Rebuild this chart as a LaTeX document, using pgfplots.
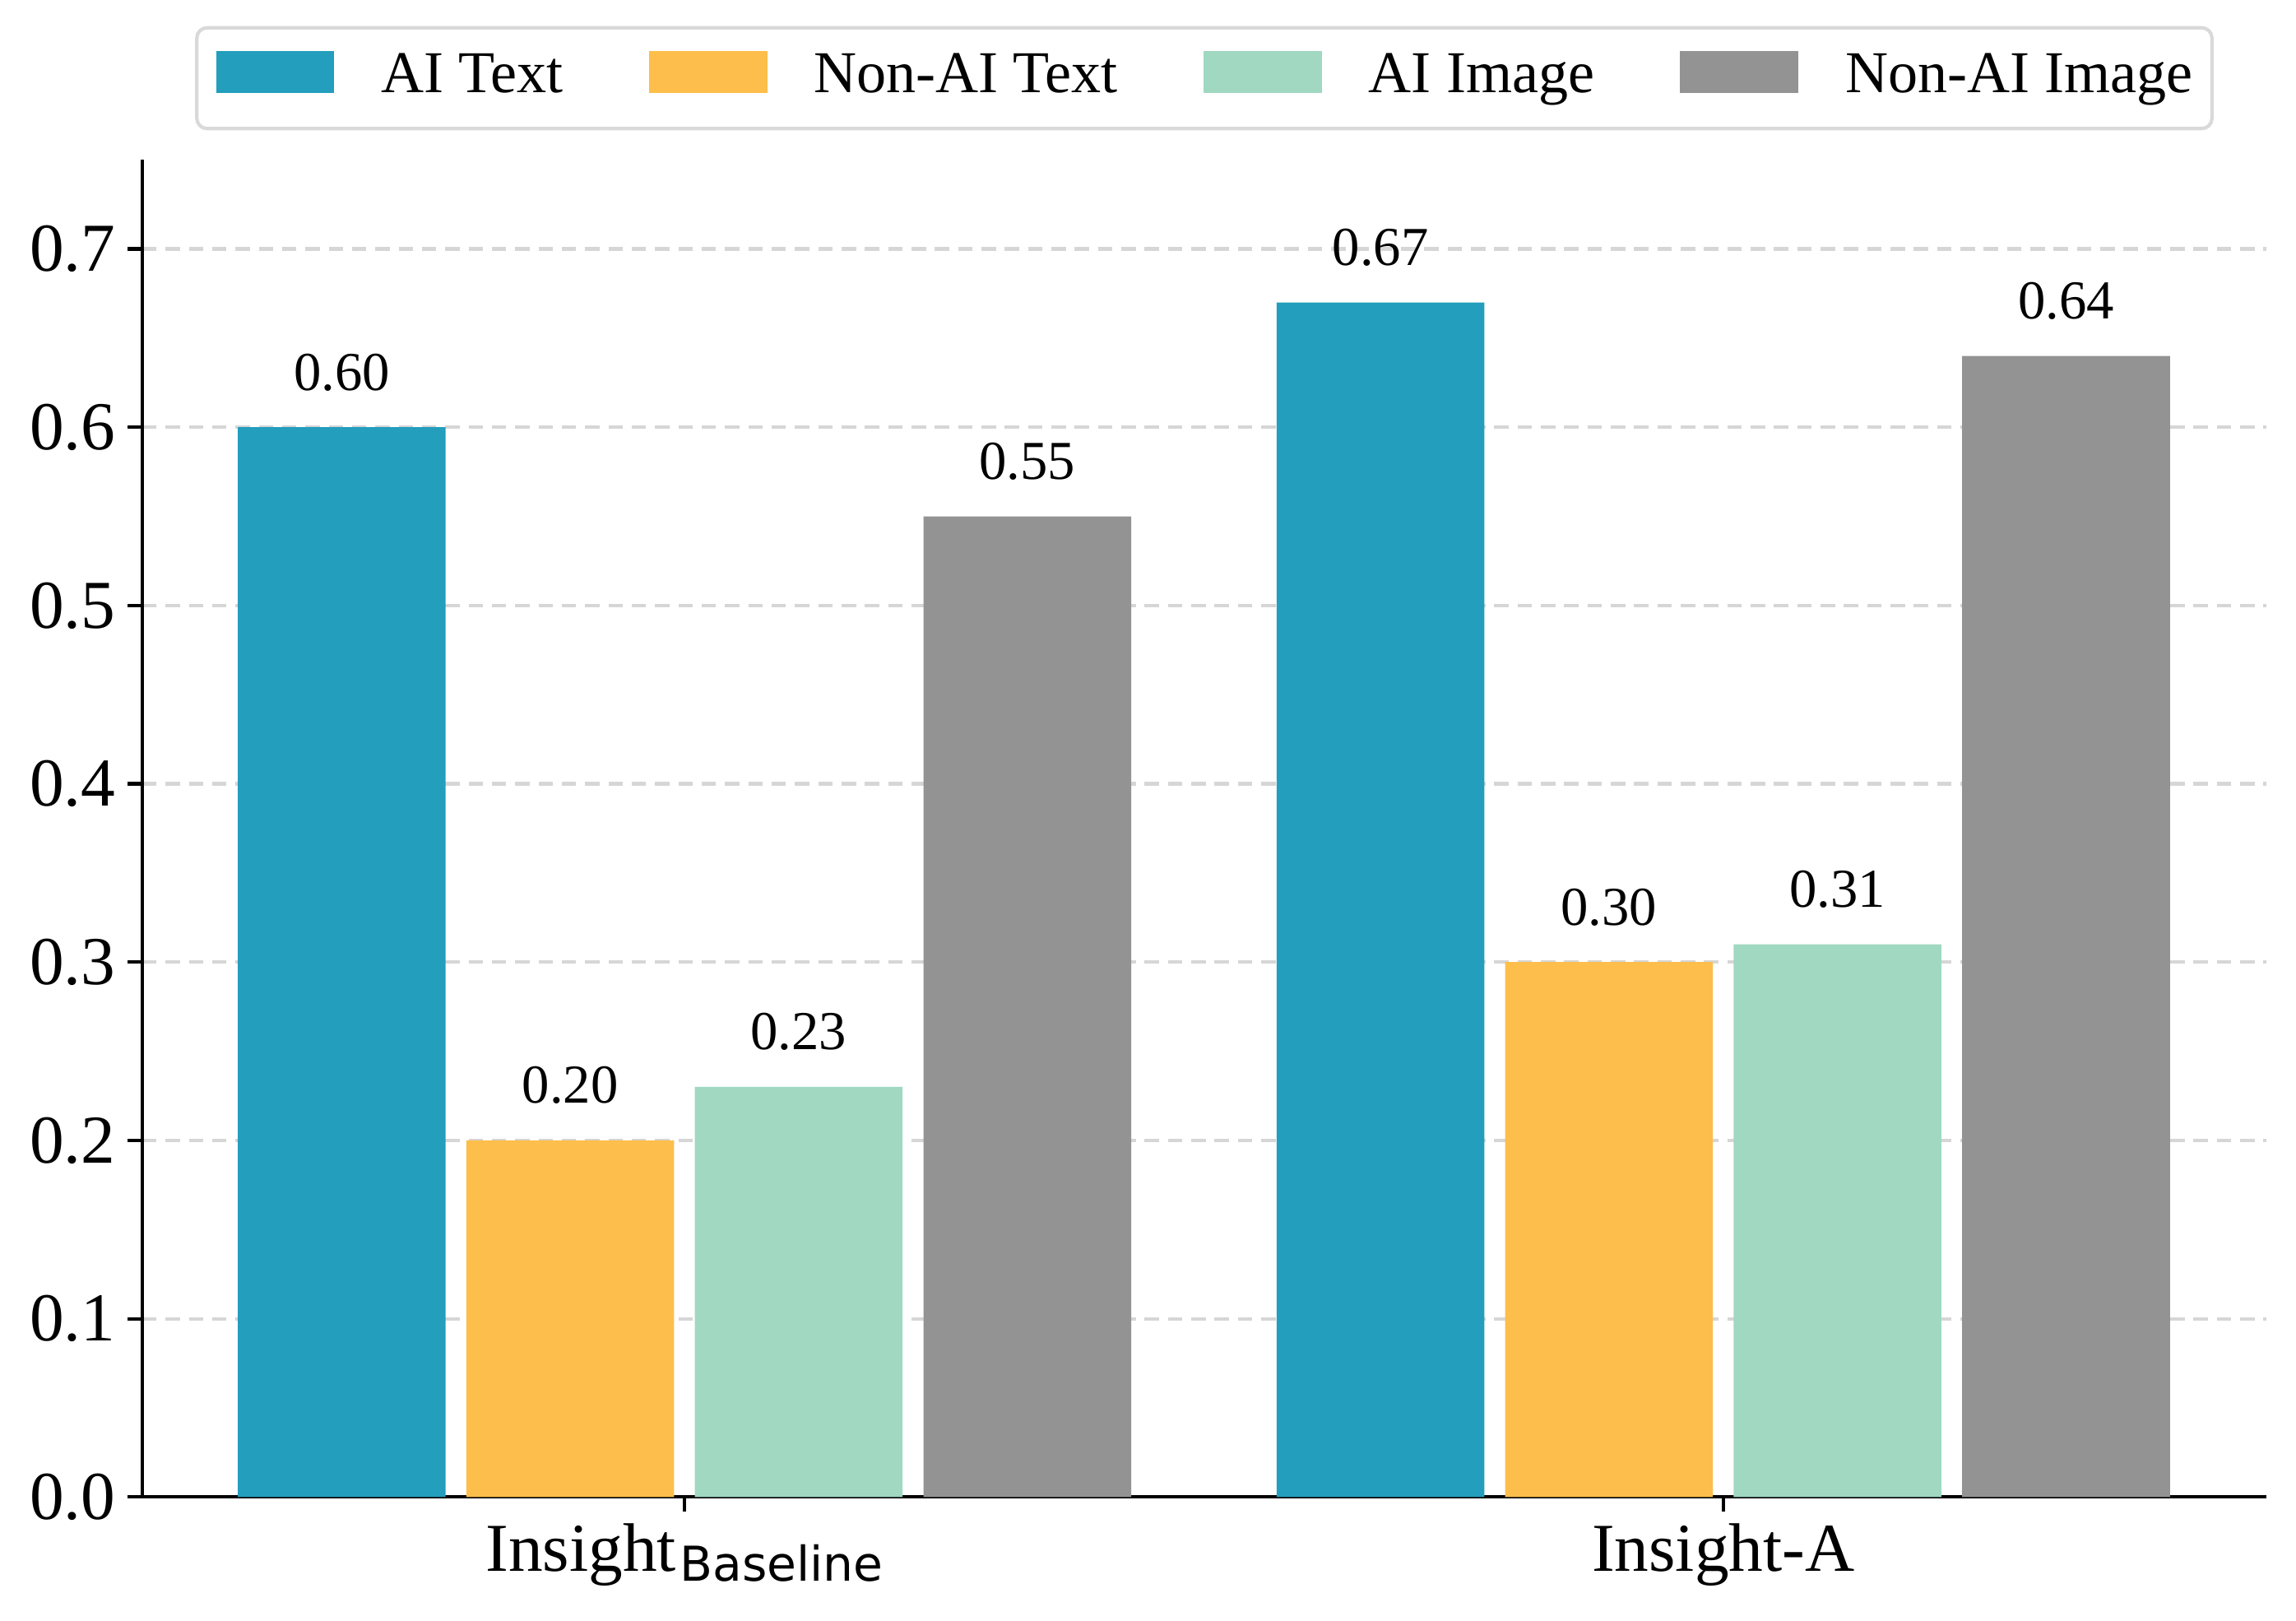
\documentclass[border=0pt]{standalone}
\usepackage{fontspec}
\setmainfont{Liberation Serif}
\newfontfamily\dejavu{DejaVu Sans}
\usepackage{pgfplots}
\pgfplotsset{compat=1.18}
\definecolor{cA}{RGB}{35,158,188}
\definecolor{cB}{RGB}{253,190,75}
\definecolor{cC}{RGB}{160,216,193}
\definecolor{cD}{RGB}{147,147,147}
\definecolor{gridc}{RGB}{214,214,214}
\definecolor{legc}{RGB}{217,217,217}
\pgfplotsset{
  mybar/.style={ybar, bar width=0.2, bar shift=0pt, draw=none,
    legend image code/.code={\fill[##1, sharp corners] (0pt,-4.2pt) rectangle (34.5pt,8.0pt);}},
}
\begin{document}
\begin{tikzpicture}
\begin{axis}[
  name=ax,
  scale only axis,
  width=619.7pt, height=390pt,
  xmin=-0.522, xmax=1.523,
  ymin=0, ymax=0.75,
  axis lines=left,
  axis line style={-, line width=1pt, black},
  tick align=outside,
  major tick length=4.3pt,
  tick style={line width=1pt, black},
  xtick={0,1},
  xticklabels={{Insight\hspace{1pt}\raisebox{-2.9pt}{\dejavu\fontsize{14}{14}\selectfont Baseline}}, {Insight-A}},
  ytick={0,0.1,0.2,0.3,0.4,0.5,0.6,0.7},
  yticklabel style={/pgf/number format/.cd, fixed, fixed zerofill, precision=1, assume math mode=true},
  ticklabel style={font=\fontsize{20}{24}\selectfont},
  ymajorgrids,
  major grid style={gridc, line width=1pt, dash pattern=on 4.2pt off 2.6pt},
  legend columns=4,
  legend style={at={(0.5,1)}, anchor=south, yshift=8.6pt,
    font=\fontsize{17.3}{17.3}\selectfont,
    draw=legc, line width=1pt, rounded corners=3pt,
    inner xsep=5.6pt, inner ysep=6.8pt,
    nodes={inner sep=0pt, text height=11.8pt, text depth=3.8pt},
    /tikz/every odd column/.append style={column sep=13.7pt},
    /tikz/every even column/.append style={column sep=25pt}},
  nodes near coords={\pgfmathprintnumber[fixed,fixed zerofill,precision=2,assume math mode=true]{\pgfplotspointmeta}},
  every node near coord/.append style={font=\fontsize{16}{16}\selectfont, anchor=base, yshift=10.8pt, inner sep=0pt, black},
]
\addplot[mybar, fill=cA] coordinates {(-0.33,0.60) (0.67,0.67)};
\addplot[mybar, fill=cB] coordinates {(-0.11,0.20) (0.89,0.30)};
\addplot[mybar, fill=cC] coordinates {(0.11,0.23) (1.11,0.31)};
\addplot[mybar, fill=cD] coordinates {(0.33,0.55) (1.33,0.64)};
\legend{AI Text, Non-AI Text, AI Image, Non-AI Image}
\end{axis}
\pgfresetboundingbox
\path ([xshift=-41.5pt, yshift=-36pt]ax.south west) rectangle ([xshift=8.6pt, yshift=46.6pt]ax.north east);
\end{tikzpicture}
\end{document}
